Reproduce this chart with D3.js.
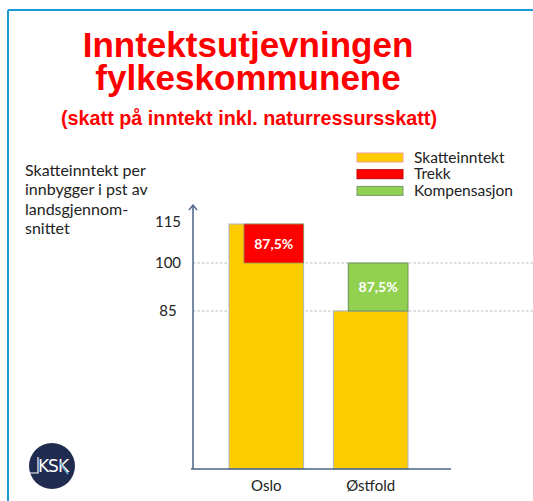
<!DOCTYPE html>
<html>
<head>
<meta charset="utf-8">
<script src="https://cdn.jsdelivr.net/npm/d3@7"></script>
<style>
  body { margin: 0; background: #fff; }
  svg { display: block; }
</style>
</head>
<body>
<svg id="chart" width="533" height="501"></svg>
<script>
// data
const categories = ["Oslo", "Østfold"];
const skatteinntekt = [115, 85];
const trekk = [15, 0];          // 100 -> 115 for Oslo
const kompensasjon = [0, 15];   // 85 -> 100 for Østfold
const barLabels = ["87,5%", "87,5%"];
const yTicks = [85, 100, 115];
const refLines = [85, 100];
const legendItems = ["Skatteinntekt", "Trekk", "Kompensasjon"];
const legendColors = ["#ffcc00", "#ff0000", "#92d050"];
const legendStrokes = ["#f0a090", "#c00000", "#7a9a6a"];
const yLabelLines = ["Skatteinntekt per", "innbygger i pst av", "landsgjennom-", "snittet"];

const svg = d3.select("#chart");
const W = 533, H = 501;

// frame
svg.append("line").attr("x1", 8).attr("x2", W).attr("y1", 10).attr("y2", 10)
  .attr("stroke", "#1a9ad6").attr("stroke-width", 2);
svg.append("line").attr("x1", 8).attr("x2", 8).attr("y1", 10).attr("y2", H)
  .attr("stroke", "#1a9ad6").attr("stroke-width", 2);

// titles
const titleFont = "Liberation Sans, Arial, sans-serif";
svg.append("text").attr("x", 248).attr("y", 57).attr("text-anchor", "middle")
  .attr("font-family", titleFont).attr("font-weight", "bold")
  .attr("font-size", 35).attr("fill", "#ff0000").text("Inntektsutjevningen");
svg.append("text").attr("x", 248).attr("y", 90).attr("text-anchor", "middle")
  .attr("font-family", titleFont).attr("font-weight", "bold")
  .attr("font-size", 35).attr("fill", "#ff0000").text("fylkeskommunene");
svg.append("text").attr("x", 249).attr("y", 125).attr("text-anchor", "middle")
  .attr("font-family", titleFont).attr("font-weight", "bold")
  .attr("font-size", 19.8).attr("fill", "#ff0000").text("(skatt på inntekt inkl. naturressursskatt)");

// y label
svg.append("text").attr("font-family", "Lato, sans-serif").attr("font-size", 16).attr("fill", "#222")
  .selectAll("tspan").data(yLabelLines).join("tspan")
  .attr("x", 25).attr("y", (d, i) => 176 + i * 19.3).text(d => d);

// scales (schematic, piecewise y)
const y = d3.scaleLinear().domain([0, 85, 100, 115]).range([469, 311, 263, 224]);
const x = d3.scaleBand().domain(categories).range([193, 444])
  .paddingInner(0.285).paddingOuter(0.345);
const subShift = 0.2; // trekk/kompensasjon start offset within the band

// reference lines
svg.selectAll(".ref").data(refLines).join("line")
  .attr("x1", 193).attr("x2", W)
  .attr("y1", d => y(d)).attr("y2", d => y(d))
  .attr("stroke", "#b8bcc4").attr("stroke-width", 1.2).attr("stroke-dasharray", "2.5,2");

// skatteinntekt bars
svg.selectAll(".skatt").data(categories).join("rect")
  .attr("x", d => x(d)).attr("width", x.bandwidth())
  .attr("y", (d, i) => y(skatteinntekt[i]))
  .attr("height", (d, i) => y(0) - y(skatteinntekt[i]))
  .attr("fill", "#ffcc00").attr("stroke", "#a9b4c6").attr("stroke-width", 1);

// trekk (Oslo)
svg.selectAll(".trekk").data(categories.filter((d, i) => trekk[i] > 0)).join("rect")
  .attr("x", d => x(d) + x.bandwidth() * subShift)
  .attr("width", x.bandwidth() * (1 - subShift))
  .attr("y", d => { const i = categories.indexOf(d); return y(100 + trekk[i]); })
  .attr("height", d => { const i = categories.indexOf(d); return y(100) - y(100 + trekk[i]); })
  .attr("fill", "#ff0000").attr("stroke", "#8f9a5a").attr("stroke-width", 0.8);

// kompensasjon (Østfold)
svg.selectAll(".komp").data(categories.filter((d, i) => kompensasjon[i] > 0)).join("rect")
  .attr("x", d => x(d) + x.bandwidth() * subShift)
  .attr("width", x.bandwidth() * (1 - subShift))
  .attr("y", d => { const i = categories.indexOf(d); return y(skatteinntekt[i] + kompensasjon[i]); })
  .attr("height", d => { const i = categories.indexOf(d); return y(skatteinntekt[i]) - y(skatteinntekt[i] + kompensasjon[i]); })
  .attr("fill", "#92d050").attr("stroke", "#6f8f5a").attr("stroke-width", 1);

// bar labels
categories.forEach((d, i) => {
  const lo = trekk[i] > 0 ? 100 : skatteinntekt[i];
  const hi = trekk[i] > 0 ? 100 + trekk[i] : skatteinntekt[i] + kompensasjon[i];
  svg.append("text")
    .attr("x", x(d) + x.bandwidth() * (subShift + (1 - subShift) / 2))
    .attr("y", (y(lo) + y(hi)) / 2 + 5)
    .attr("text-anchor", "middle").attr("font-family", "Lato, sans-serif")
    .attr("font-weight", "bold").attr("font-size", 14).attr("fill", "#fff")
    .text(barLabels[i]);
});

// axes
svg.append("line").attr("x1", 193).attr("x2", 193).attr("y1", 469).attr("y2", 205)
  .attr("stroke", "#4a6285").attr("stroke-width", 1.5);
svg.append("path").attr("d", "M189,210 L193,205 L197,210").attr("fill", "none")
  .attr("stroke", "#4a6285").attr("stroke-width", 1.3);
svg.append("line").attr("x1", 191).attr("x2", 451).attr("y1", 469).attr("y2", 469)
  .attr("stroke", "#4a6285").attr("stroke-width", 1.5);

svg.selectAll(".ytick").data(yTicks).join("text")
  .attr("x", 168).attr("y", d => (d === 115 ? y(d) - 2 : y(d)) + 5)
  .attr("text-anchor", "middle").attr("font-family", "Lato, sans-serif")
  .attr("font-size", 15).attr("fill", "#222").text(d => d);

svg.selectAll(".xlab").data(categories).join("text")
  .attr("x", d => x(d) + x.bandwidth() / 2).attr("y", 491)
  .attr("text-anchor", "middle").attr("font-family", "Lato, sans-serif")
  .attr("font-size", 15).attr("fill", "#222").text(d => d);

// legend
const leg = svg.append("g");
legendItems.forEach((d, i) => {
  leg.append("rect").attr("x", 357).attr("y", 153 + i * 16.7).attr("width", 46).attr("height", 9)
    .attr("fill", legendColors[i]).attr("stroke", legendStrokes[i]).attr("stroke-width", 1);
  leg.append("text").attr("x", 414).attr("y", 162.5 + i * 16.7)
    .attr("font-family", "Lato, sans-serif").attr("font-size", 15.5).attr("fill", "#222").text(d);
});

// logo
const logo = svg.append("g").attr("transform", "translate(52,466)");
logo.append("circle").attr("r", 23).attr("fill", "#1f2b4f");
logo.append("path").attr("d", "M-22,7 L-14,7 L-14,-9").attr("fill", "none")
  .attr("stroke", "#ffffff").attr("stroke-width", 1.2);
logo.append("text").attr("x", 1).attr("y", 6).attr("text-anchor", "middle")
  .attr("font-family", "DejaVu Sans, sans-serif").attr("font-size", 17).attr("fill", "#ffffff")
  .attr("letter-spacing", -1).text("KSK");
logo.append("path").attr("d", "M8,-3 L16,8").attr("stroke", "#6cb8e6").attr("stroke-width", 1.5);
</script>
</body>
</html>
